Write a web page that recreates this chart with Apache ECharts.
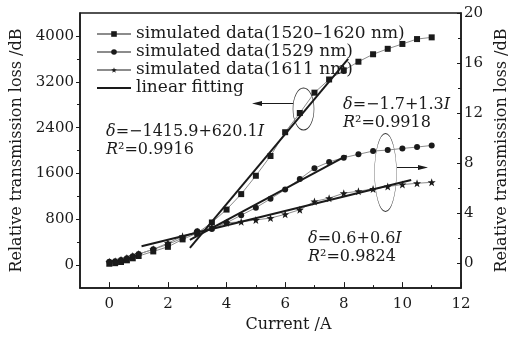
<!DOCTYPE html>
<html>
<head>
<meta charset="utf-8">
<script src="https://cdn.jsdelivr.net/npm/echarts@6/dist/echarts.min.js"></script>
<style>
  html, body { margin: 0; padding: 0; background: #fff; }
  #chart { width: 523px; height: 338px; }
</style>
</head>
<body>
<div id="chart"></div>
<script>
// current (A) of each simulated point
const current = [0, 0.2, 0.4, 0.6, 0.8, 1, 1.5, 2, 2.5, 3, 3.5, 4, 4.5, 5, 5.5, 6, 6.5, 7, 7.5, 8, 8.5, 9, 9.5, 10, 10.5, 11]
// left axis (dB)
const loss1520to1620 = [25, 35, 55, 85, 120, 160, 240, 320, 450, 560, 745, 970, 1240, 1560, 1905, 2320, 2655, 3010, 3240, 3400, 3550, 3680, 3775, 3860, 3945, 3975]
// right axis (dB)
const loss1529 = [0.1, 0.15, 0.25, 0.38, 0.55, 0.72, 1.1, 1.5, 2.0, 2.55, 2.72, 3.22, 3.83, 4.43, 5.14, 5.88, 6.72, 7.59, 8.09, 8.43, 8.7, 8.96, 9.04, 9.17, 9.28, 9.41]
const loss1611 = [0.1, 0.15, 0.27, 0.4, 0.56, 0.72, 1.1, 1.6, 2.15, 2.5, 2.88, 3.22, 3.3, 3.45, 3.6, 3.9, 4.27, 4.93, 5.19, 5.59, 5.75, 5.93, 6.12, 6.28, 6.38, 6.46]
// fitted line end points [current, loss]
const fit1520to1620 = [[2.75, 300], [8.15, 3600]]
const fit1529 = [[2.75, 1.85], [8.1, 8.6]]
const fit1611 = [[1.1, 1.35], [10.3, 6.65]]

const xTicks = [0, 2, 4, 6, 8, 10, 12]
const xMinor = [1, 3, 5, 7, 9, 11]
const leftTicks = [0, 800, 1600, 2400, 3200, 4000]
const leftMinor = [400, 1200, 2000, 2800, 3600]
const rightTicks = [0, 4, 8, 12, 16, 20]
const rightMinor = [2, 6, 10, 14, 18]

const FONT = 'DejaVu Serif'
const INK = '#1a1a1a'
const STAR = 'path://M0,-10 L2.35,-3.24 L9.51,-3.09 L3.8,1.24 L5.88,8.09 L0,4 L-5.88,8.09 L-3.8,1.24 L-9.51,-3.09 L-2.35,-3.24 Z'
const plain = (v) => String(v)

const pairs = (ys) => current.map((x, i) => [x, ys[i]])

const chart = echarts.init(document.getElementById('chart'), null, { renderer: 'canvas' })

const axisLine = { show: true, onZero: false, lineStyle: { color: INK, width: 1.5 } }
const grid = { left: 80, top: 13, right: 62, bottom: 46, show: true, borderColor: INK, borderWidth: 1.5 }

const dataSeries = (name, ys, yIdx, symbol, size) => ({
  name,
  type: 'line',
  yAxisIndex: yIdx,
  data: pairs(ys),
  symbol,
  symbolSize: size,
  showAllSymbol: true,
  itemStyle: { color: INK, borderWidth: 0 },
  lineStyle: { color: '#8c8c8c', width: 1 },
  emphasis: { disabled: true },
  z: 3
})

const fitSeries = (pts, yIdx) => ({
  name: 'linear fitting',
  type: 'line',
  yAxisIndex: yIdx,
  data: pts,
  symbol: 'none',
  itemStyle: { color: INK },
  lineStyle: { color: INK, width: 2 },
  emphasis: { disabled: true },
  z: 4
})

const eqText = (left, top, l1, l2) => ({
  type: 'text',
  left, top,
  style: {
    text: l1 + '\n' + l2,
    font: '16px ' + FONT,
    fill: INK,
    lineHeight: 18,
    rich: {
      i: { fontFamily: FONT, fontSize: 16, fontStyle: 'italic', fill: INK, lineHeight: 18 },
      n: { fontFamily: FONT, fontSize: 16, fill: INK, lineHeight: 18 }
    }
  }
})

const option = {
  backgroundColor: '#fff',
  animation: false,
  grid,
  legend: {
    orient: 'vertical',
    left: 91,
    top: 20,
    itemWidth: 34,
    itemHeight: 7,
    itemGap: 0,
    textStyle: { fontFamily: FONT, fontSize: 17, color: INK, lineHeight: 18 },
    data: [
      'simulated data(1520–1620 nm)',
      'simulated data(1529 nm)',
      'simulated data(1611 nm)',
      { name: 'linear fitting', icon: 'path://M0,0 L34,0 L34,2 L0,2 Z', itemStyle: { color: INK } }
    ]
  },
  xAxis: [
    {
      type: 'value', min: -1, max: 12,
      name: 'Current /A', nameLocation: 'middle', nameGap: 28,
      nameTextStyle: { fontFamily: FONT, fontSize: 16, color: INK, padding: [0, 0, 0, 36] },
      axisLine,
      axisTick: { inside: true, length: 6, customValues: xTicks, lineStyle: { color: INK } },
      axisLabel: { customValues: xTicks, formatter: plain, margin: 9, fontFamily: FONT, fontSize: 15, color: INK },
      splitLine: { show: false }
    },
    {
      type: 'value', min: -1, max: 12, position: 'bottom',
      axisLine: { show: false, onZero: false },
      axisTick: { inside: true, length: 3, customValues: xMinor, lineStyle: { color: INK } },
      axisLabel: { show: false },
      splitLine: { show: false }
    }
  ],
  yAxis: [
    {
      type: 'value', min: -400, max: 4400, position: 'left',
      name: 'Relative transmission loss /dB', nameLocation: 'middle', nameGap: 49,
      nameTextStyle: { fontFamily: FONT, fontSize: 16, color: INK },
      axisLine,
      axisTick: { length: 4, customValues: leftTicks, lineStyle: { color: INK } },
      axisLabel: { customValues: leftTicks, formatter: plain, margin: 6, fontFamily: FONT, fontSize: 15, color: INK },
      splitLine: { show: false }
    },
    {
      type: 'value', min: -2, max: 20, position: 'right',
      name: 'Relative transmission loss /dB', nameLocation: 'middle', nameGap: 31, nameRotate: 90,
      nameTextStyle: { fontFamily: FONT, fontSize: 16, color: INK },
      axisLine,
      axisTick: { inside: true, length: 4, customValues: rightTicks, lineStyle: { color: INK } },
      axisLabel: { customValues: rightTicks, formatter: plain, margin: 3, fontFamily: FONT, fontSize: 15, color: INK },
      splitLine: { show: false }
    },
    {
      type: 'value', min: -400, max: 4400, position: 'left',
      axisLine: { show: false, onZero: false },
      axisTick: { length: 3, customValues: leftMinor, lineStyle: { color: INK } },
      axisLabel: { show: false },
      splitLine: { show: false }
    },
    {
      type: 'value', min: -2, max: 20, position: 'right',
      axisLine: { show: false, onZero: false },
      axisTick: { inside: true, length: 3, customValues: rightMinor, lineStyle: { color: INK } },
      axisLabel: { show: false },
      splitLine: { show: false }
    }
  ],
  series: [
    dataSeries('simulated data(1520–1620 nm)', loss1520to1620, 0, 'rect', 6),
    dataSeries('simulated data(1529 nm)', loss1529, 1, 'circle', 6),
    dataSeries('simulated data(1611 nm)', loss1611, 1, STAR, 8),
    fitSeries(fit1520to1620, 0),
    fitSeries(fit1529, 1),
    fitSeries(fit1611, 1)
  ],
  graphic: [
    eqText(106, 123, '{i|δ}{n|=−1415.9+620.1}{i|I}', '{i|R}{n|²=0.9916}'),
    eqText(343, 96, '{i|δ}{n|=−1.7+1.3}{i|I}', '{i|R}{n|²=0.9918}'),
    eqText(308, 230, '{i|δ}{n|=0.6+0.6}{i|I}', '{i|R}{n|²=0.9824}'),
    // ellipses round the grouped points
    { type: 'circle', x: 303.5, y: 109, scaleX: 0.5, shape: { cx: 0, cy: 0, r: 21 },
      style: { fill: 'none', stroke: '#333', lineWidth: 1.2, strokeNoScale: true } },
    { type: 'circle', x: 385.5, y: 172.5, scaleX: 0.28, shape: { cx: 0, cy: 0, r: 39 },
      style: { fill: 'none', stroke: '#333', lineWidth: 1.2, strokeNoScale: true } },
    // arrows pointing to the axis each group belongs to
    { type: 'line', shape: { x1: 293, y1: 103.5, x2: 256, y2: 103.5 }, style: { stroke: INK, lineWidth: 1 } },
    { type: 'polygon', shape: { points: [[252, 103.5], [262, 101], [262, 106]] }, style: { fill: INK } },
    { type: 'line', shape: { x1: 397, y1: 167.5, x2: 424, y2: 167.5 }, style: { stroke: INK, lineWidth: 1 } },
    { type: 'polygon', shape: { points: [[428, 167.5], [418, 165], [418, 170]] }, style: { fill: INK } }
  ]
}

chart.setOption(option)
</script>
</body>
</html>
